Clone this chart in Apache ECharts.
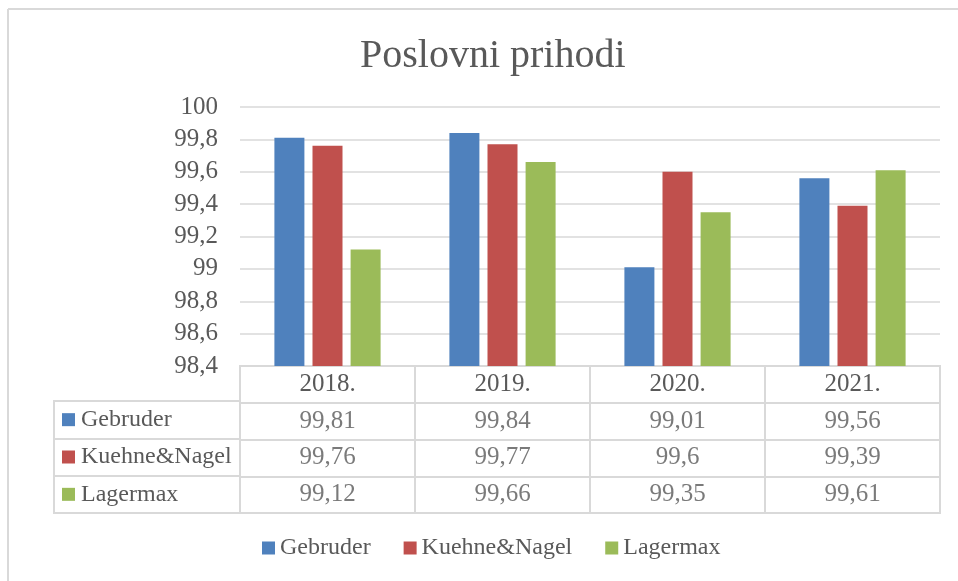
<!DOCTYPE html>
<html><head><meta charset="utf-8">
<script src="https://cdn.jsdelivr.net/npm/echarts@6/dist/echarts.min.js"></script>
<style>html,body{margin:0;padding:0;background:#fff}#c{width:958px;height:581px}</style>
</head><body><div id="c"></div>
<script>
const title = 'Poslovni prihodi';
const categories = ['2018.', '2019.', '2020.', '2021.'];
const seriesNames = ['Gebruder', 'Kuehne&Nagel', 'Lagermax'];
const gebruder = [99.81, 99.84, 99.01, 99.56];
const kuehneNagel = [99.76, 99.77, 99.6, 99.39];
const lagermax = [99.12, 99.66, 99.35, 99.61];
const yMin = 98.4, yMax = 100, yStep = 0.2;
const colors = ['#4F81BD', '#C0504D', '#9BBB59'];

const values = [gebruder, kuehneNagel, lagermax];
const FONT = 'Liberation Serif';
const FS = 25;
const FS2 = 24;
const TXT = '#595959';
const LINE = '#D9D9D9';
const fmt = v => String(v).replace('.', ',');

const tableData = [];
values.forEach((arr, r) => arr.forEach((v, c) => tableData.push([c, r, fmt(v)])));

const chart = echarts.init(document.getElementById('c'), null, {renderer: 'canvas'});
const barSeries = seriesNames.map((n, i) => ({
  name: n, type: 'bar', xAxisIndex: 0, yAxisIndex: 0,
  data: values[i], barWidth: 30, barGap: '27%',
  itemStyle: {color: colors[i]}
}));

chart.setOption({
  animation: false,
  textStyle: {fontFamily: FONT},
  title: {text: title, left: 355, top: 31,
    textStyle: {fontFamily: FONT, fontSize: 40, fontWeight: 'normal', color: TXT}},
  legend: {
    bottom: 16, left: 257, itemWidth: 13, itemHeight: 13, itemGap: 33,
    icon: 'rect', data: seriesNames,
    textStyle: {fontFamily: FONT, fontSize: FS2, color: TXT}
  },
  grid: [
    {left: 240, width: 700, top: 107, height: 259},
    {left: 240, width: 700, top: 366, height: 147, show: true, borderColor: LINE, borderWidth: 2},
    {left: 54, width: 186, top: 401, height: 112, show: true, borderColor: LINE, borderWidth: 2}
  ],
  xAxis: [
    {type: 'category', gridIndex: 0, data: categories,
      axisLine: {show: false}, axisTick: {show: false},
      axisLabel: {fontSize: FS, color: TXT, margin: 6, fontFamily: FONT}},
    {type: 'category', gridIndex: 1, data: categories,
      axisLine: {show: false}, axisTick: {show: false}, axisLabel: {show: false},
      splitLine: {show: true, lineStyle: {color: LINE, width: 2}}},
    {type: 'value', gridIndex: 2, min: 0, max: 1, show: false}
  ],
  yAxis: [
    {type: 'value', gridIndex: 0, min: yMin, max: yMax, interval: yStep,
      axisLine: {show: false}, axisTick: {show: false},
      axisLabel: {fontSize: FS, color: TXT, margin: 22, fontFamily: FONT, formatter: v => fmt(+v.toFixed(1))},
      splitLine: {lineStyle: {color: LINE, width: 1.5}}},
    {type: 'category', gridIndex: 1, inverse: true, data: ['', ...seriesNames],
      axisLine: {show: false}, axisTick: {show: false}, axisLabel: {show: false},
      splitLine: {show: true, lineStyle: {color: LINE, width: 2}}},
    {type: 'category', gridIndex: 2, inverse: true, data: seriesNames,
      axisLine: {show: false}, axisTick: {show: false},
      splitLine: {show: true, lineStyle: {color: LINE, width: 2}},
      axisLabel: {inside: true, margin: 8, align: 'left', fontSize: FS2, color: TXT, fontFamily: FONT,
        formatter: (v, i) => '{s' + i + '|} ' + v,
        rich: {
          s0: {width: 13, height: 13, backgroundColor: colors[0]},
          s1: {width: 13, height: 13, backgroundColor: colors[1]},
          s2: {width: 13, height: 13, backgroundColor: colors[2]}
        }}}
  ],
  series: [
    ...barSeries,
    {type: 'scatter', xAxisIndex: 1, yAxisIndex: 1, symbolSize: 0, silent: true,
      data: tableData.map(d => [d[0], d[1] + 1, d[2]]),
      label: {show: true, position: 'inside', formatter: p => p.value[2],
        fontSize: FS, color: TXT, fontFamily: FONT}}
  ],
  graphic: [
    {type: 'line', shape: {x1: 8, y1: 9, x2: 958, y2: 9}, style: {stroke: LINE, lineWidth: 2}},
    {type: 'line', shape: {x1: 8, y1: 9, x2: 8, y2: 581}, style: {stroke: LINE, lineWidth: 2}}
  ]
});
</script></body></html>
